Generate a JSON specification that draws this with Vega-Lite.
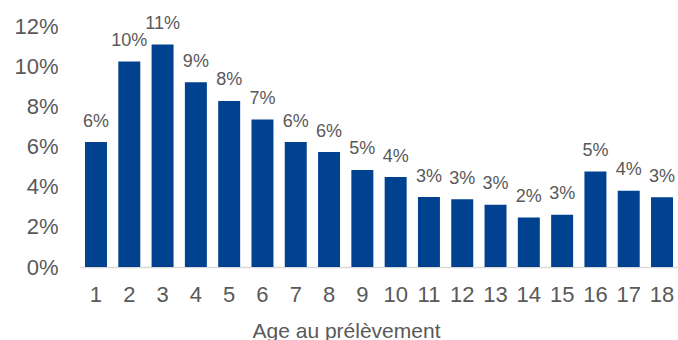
{
  "$schema": "https://vega.github.io/schema/vega-lite/v6.json",
  "width": 598,
  "height": 241,
  "autosize": {"type": "none"},
  "padding": {"left": 80, "top": 26, "right": 0, "bottom": 73},
  "background": "white",
  "config": {
    "view": {"stroke": null},
    "font": "Liberation Sans",
    "text": {"font": "Liberation Sans"}
  },
  "data": {
    "values": [
      {"age": 1, "share": 0.0622},
      {"age": 2, "share": 0.1023},
      {"age": 3, "share": 0.1108},
      {"age": 4, "share": 0.092},
      {"age": 5, "share": 0.0827},
      {"age": 6, "share": 0.0735},
      {"age": 7, "share": 0.0622},
      {"age": 8, "share": 0.0572},
      {"age": 9, "share": 0.0483},
      {"age": 10, "share": 0.0448},
      {"age": 11, "share": 0.0348},
      {"age": 12, "share": 0.0337},
      {"age": 13, "share": 0.031},
      {"age": 14, "share": 0.0247},
      {"age": 15, "share": 0.026},
      {"age": 16, "share": 0.0476},
      {"age": 17, "share": 0.038},
      {"age": 18, "share": 0.0347}
    ]
  },
  "encoding": {
    "x": {
      "field": "age",
      "type": "ordinal",
      "scale": {"paddingInner": 0.34, "paddingOuter": 0.15},
      "axis": {
        "title": "Age au prélèvement",
        "labelAngle": 0,
        "labelFont": "Liberation Sans",
        "labelFontSize": 22,
        "labelColor": "#595959",
        "labelPadding": 17,
        "ticks": false,
        "domainColor": "#D9D9D9",
        "domainWidth": 1.5,
        "titleFont": "Liberation Sans",
        "titleFontSize": 21,
        "titleFontWeight": "normal",
        "titleColor": "#595959",
        "titleAnchor": "start",
        "titleAlign": "center",
        "titleX": 266,
        "titleY": 70,
        "titleBaseline": "alphabetic"
      }
    },
    "y": {
      "field": "share",
      "type": "quantitative",
      "scale": {"domain": [0, 0.12], "nice": false},
      "axis": {
        "title": null,
        "format": ".0%",
        "values": [0, 0.02, 0.04, 0.06, 0.08, 0.1, 0.12],
        "grid": false,
        "domain": false,
        "ticks": false,
        "labelFont": "Liberation Sans",
        "labelFontSize": 22,
        "labelColor": "#595959",
        "labelPadding": 22
      }
    }
  },
  "layer": [
    {"mark": {"type": "bar", "color": "#004190"}},
    {
      "mark": {
        "type": "text",
        "baseline": "alphabetic",
        "dy": -15.5,
        "fontSize": 18,
        "color": "#595959",
        "font": "Liberation Sans"
      },
      "encoding": {
        "text": {"field": "share", "type": "quantitative", "format": ".0%"}
      }
    }
  ]
}
